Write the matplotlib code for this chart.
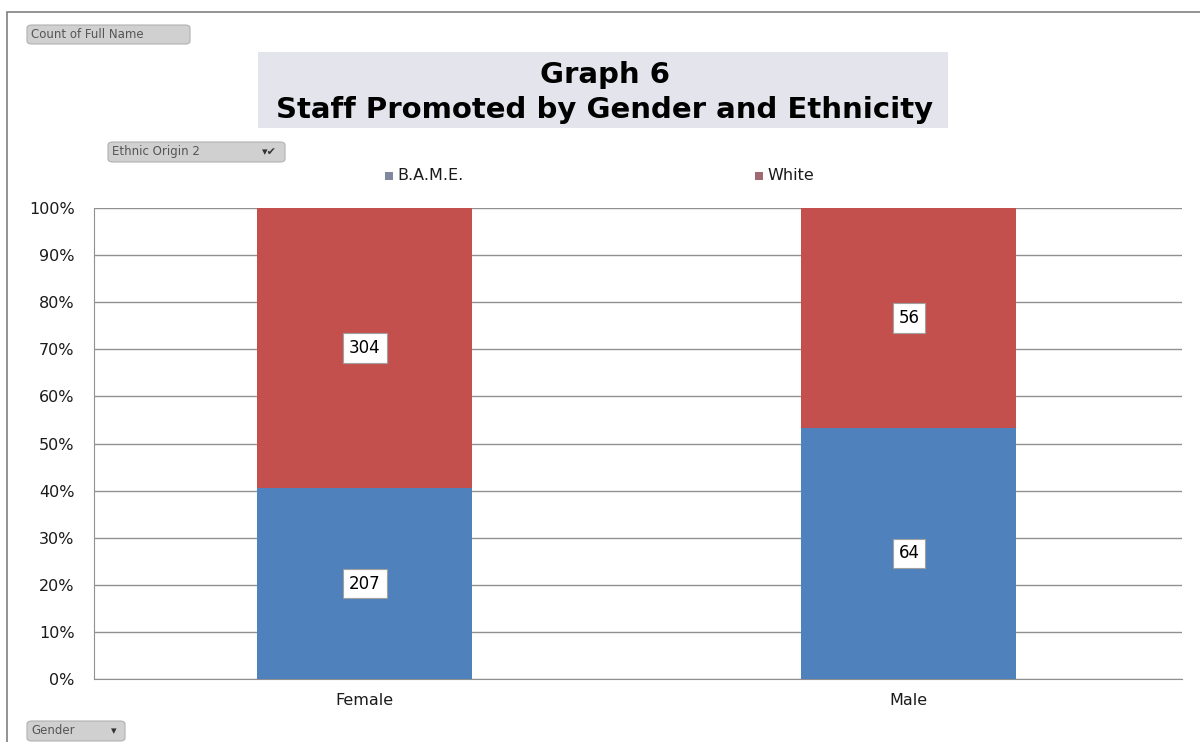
import matplotlib
matplotlib.use("Agg")
import matplotlib.pyplot as plt
from matplotlib.patches import Rectangle, FancyBboxPatch
import numpy as np

categories = ["Female", "Male"]
series_names = ["B.A.M.E.", "White"]
bame_counts = [207, 64]
white_counts = [304, 56]
yticks = [0, 10, 20, 30, 40, 50, 60, 70, 80, 90, 100]
title_lines = ["Graph 6", "Staff Promoted by Gender and Ethnicity"]

colors = ["#4F81BD", "#C4504D"]
legend_marker_colors = ["#8088a0", "#a06a72"]

W, H = 1200, 742
fig = plt.figure(figsize=(W / 100, H / 100), dpi=100)
fig.patch.set_facecolor("white")

def fx(px):
    return px / W

def fy(py):
    return 1 - py / H

# outer frame
fig.patches.append(Rectangle((fx(7), fy(752)), fx(1200), 740 / H,
                             transform=fig.transFigure, fill=False, edgecolor="#808080", lw=1.2))

ax = fig.add_axes([fx(94), fy(679), fx(1182 - 94), (679 - 208) / H])

bame = np.array(bame_counts, dtype=float)
white = np.array(white_counts, dtype=float)
tot = bame + white
bame_pct = bame / tot * 100
white_pct = white / tot * 100
x = np.arange(len(categories))
bw = 0.395

ax.bar(x, bame_pct, width=bw, color=colors[0], zorder=3)
ax.bar(x, white_pct, width=bw, bottom=bame_pct, color=colors[1], zorder=3)

box = dict(boxstyle="square,pad=0.35", facecolor="white", edgecolor="#a0a0a0", lw=0.8)
for i in range(len(categories)):
    ax.text(x[i], bame_pct[i] / 2, f"{bame_counts[i]}", ha="center", va="center",
            fontsize=12, color="black", bbox=box, zorder=5)
    ax.text(x[i], bame_pct[i] + white_pct[i] / 2, f"{white_counts[i]}", ha="center", va="center",
            fontsize=12, color="black", bbox=box, zorder=5)

ax.set_xlim(-0.498, 1.502)
ax.set_ylim(0, 100)
ax.set_yticks(yticks)
ax.set_yticklabels([f"{v}%" for v in yticks], fontsize=11.5, color="#1a1a1a")
ax.set_xticks(x)
ax.set_xticklabels(categories, fontsize=11.5, color="#1a1a1a")
ax.tick_params(axis="y", length=0, pad=14)
ax.tick_params(axis="x", length=0, pad=10)
ax.yaxis.grid(True, color="#909090", lw=1.0, zorder=0)
for s in ["top", "right"]:
    ax.spines[s].set_visible(False)
ax.spines["left"].set_color("#909090")
ax.spines["bottom"].set_color("#909090")
ax.set_facecolor("white")

# title box
fig.patches.append(Rectangle((fx(258), fy(128)), fx(948 - 258), (128 - 52) / H,
                             transform=fig.transFigure, facecolor="#e4e4ec", edgecolor="none", zorder=0))
fig.text(fx(605), fy(75), title_lines[0], ha="center", va="center", fontsize=21,
         fontweight="bold", color="black")
fig.text(fx(605), fy(110), title_lines[1], ha="center", va="center", fontsize=21,
         fontweight="bold", color="black")

# pivot field buttons
def button(x0, y0, x1, y1, label, arrow=None):
    fig.patches.append(FancyBboxPatch((fx(x0), fy(y1)), fx(x1 - x0), (y1 - y0) / H,
                                      boxstyle="round,pad=0,rounding_size=0.004",
                                      transform=fig.transFigure, facecolor="#d0d0d0",
                                      edgecolor="#b0b0b0", lw=0.8))
    fig.text(fx(x0 + 4), fy((y0 + y1) / 2), label, ha="left", va="center",
             fontsize=8.5, color="#555555")
    if arrow:
        fig.text(fx(x1 - 8), fy((y0 + y1) / 2), arrow, ha="right", va="center",
                 fontsize=8, color="#333333")

button(27, 25, 190, 44, "Count of Full Name")
button(108, 142, 285, 162, "Ethnic Origin 2", "\u25be\u2714")
button(27, 721, 125, 741, "Gender", "\u25be")

# legend
leg_pos = [(385, 176), (755, 176)]
for (lx, ly), name, mc in zip(leg_pos, series_names, legend_marker_colors):
    fig.patches.append(Rectangle((fx(lx), fy(ly + 4)), fx(8), 8 / H, transform=fig.transFigure,
                                 facecolor=mc, edgecolor="none"))
    fig.text(fx(lx + 12), fy(ly), name, ha="left", va="center", fontsize=11.5, color="#1a1a1a")

fig.savefig("out.png", dpi=100)
